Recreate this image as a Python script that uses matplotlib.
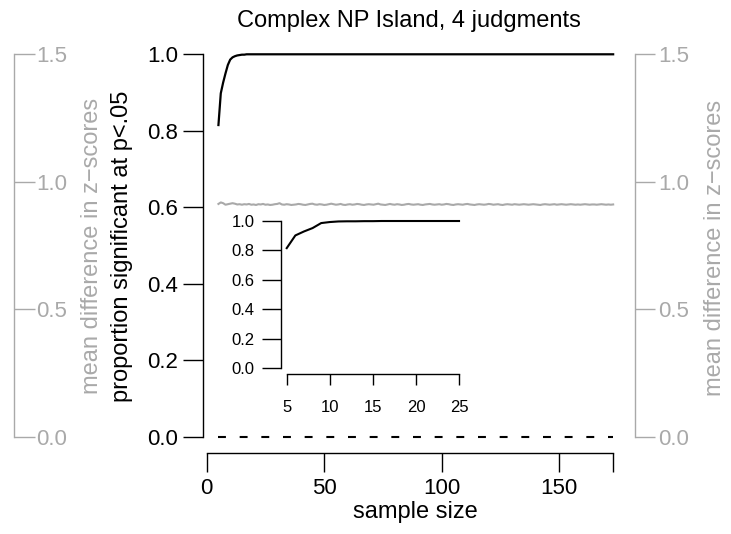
import numpy as np
import matplotlib
matplotlib.use("Agg")
import matplotlib.pyplot as plt

plt.rcParams['font.family'] = ['Liberation Sans', 'DejaVu Sans']

gray = '#a9a9a9'

# proportion significant, sample sizes 5..173
sizes = list(range(5, 174))
prop_sig = [0.815, 0.898, 0.926, 0.950, 0.972, 0.986, 0.992, 0.995, 0.997, 0.998,
            0.999, 0.999, 1.0] + [1.0] * (len(sizes) - 13)

# mean difference in z-scores (gray line), sample sizes 5..173
mean_diff = [
    0.913, 0.919, 0.916, 0.910, 0.912, 0.914, 0.916, 0.914, 0.911, 0.912,
    0.910, 0.912, 0.911, 0.913, 0.910, 0.911, 0.909, 0.912, 0.911, 0.913,
    0.910, 0.911, 0.909, 0.910, 0.912, 0.913, 0.916, 0.911, 0.910, 0.912,
    0.911, 0.909, 0.910, 0.911, 0.913, 0.912, 0.910, 0.909, 0.911, 0.913,
    0.914, 0.911, 0.910, 0.912, 0.911, 0.909, 0.910, 0.912, 0.914, 0.912,
    0.910, 0.911, 0.913, 0.910, 0.909, 0.911, 0.912, 0.910, 0.911, 0.913,
    0.912, 0.910, 0.909, 0.911, 0.912, 0.911, 0.910, 0.912, 0.914, 0.911,
    0.910, 0.909, 0.911, 0.913, 0.911, 0.910, 0.912, 0.911, 0.909, 0.910,
    0.912, 0.913, 0.911, 0.910, 0.911, 0.912, 0.910, 0.909, 0.911, 0.912,
    0.913, 0.911, 0.910, 0.911, 0.912, 0.910, 0.911, 0.913, 0.912, 0.910,
    0.909, 0.911, 0.912, 0.911, 0.910, 0.912, 0.913, 0.911, 0.910, 0.909,
    0.911, 0.912, 0.911, 0.910, 0.911, 0.913, 0.912, 0.910, 0.911, 0.912,
    0.910, 0.909, 0.911, 0.912, 0.911, 0.910, 0.912, 0.911, 0.910, 0.911,
    0.912, 0.911, 0.910, 0.911, 0.912, 0.911, 0.910, 0.909, 0.911, 0.912,
    0.911, 0.910, 0.911, 0.912, 0.910, 0.911, 0.912, 0.911, 0.910, 0.911,
    0.912, 0.911, 0.910, 0.911, 0.910, 0.911, 0.912, 0.911, 0.910, 0.911,
    0.911, 0.910, 0.911, 0.912, 0.911, 0.910, 0.911, 0.910, 0.911,
]

# zoomed inset, sample sizes 5..25
inset_sizes = list(range(5, 26))
inset_prop = [0.816, 0.902, 0.929, 0.952, 0.986, 0.993, 0.997, 0.998, 0.998, 0.999,
              0.999, 1.0, 1.0, 1.0, 1.0, 1.0, 1.0, 1.0, 1.0, 1.0, 1.0]

x_ticks = [0, 50, 100, 150, 173]
x_labels = ['0', '50', '100', '150', '']
y_ticks = [0.0, 0.2, 0.4, 0.6, 0.8, 1.0]
z_ticks = [0.0, 0.5, 1.0, 1.5]

W, H = 731, 534
fig = plt.figure(figsize=(W / 100, H / 100), dpi=100)


def frac(left, right, bottom, top):
    # pixel box -> figure fraction rect
    return [left / W, 1 - bottom / H, (right - left) / W, (bottom - top) / H]


ax = fig.add_axes(frac(203, 635, 453, 39))
ax.set_xlim(-1.57, 182.3)
ax.set_ylim(-0.0426, 1.04)
for s in ['top', 'right']:
    ax.spines[s].set_visible(False)
ax.spines['left'].set_bounds(0, 1)
ax.spines['bottom'].set_bounds(0, 173)
for s in ['left', 'bottom']:
    ax.spines[s].set_linewidth(1.0)
ax.set_xticks(x_ticks)
ax.set_xticklabels(x_labels)
ax.set_yticks(y_ticks)
ax.set_yticklabels(['%.1f' % v for v in y_ticks])
ax.tick_params(axis='y', length=14.4, width=1.0, pad=3.6, labelsize=16)
ax.tick_params(axis='x', length=13.7, width=1.0, pad=4.5, labelsize=16)
ax.patch.set_visible(False)

ax.plot(sizes, prop_sig, color='black', lw=1.6, clip_on=False)
ax.plot(sizes, [0] * len(sizes), color='black', lw=1.5, dashes=(3.8, 6.6), clip_on=False)

# gray axis on right
ax2 = ax.twinx()
ax2.set_ylim(-0.0426 * 1.5, 1.04 * 1.5)
for s in ['top', 'left', 'bottom']:
    ax2.spines[s].set_visible(False)
ax2.spines['right'].set_bounds(0, 1.5)
ax2.spines['right'].set_color(gray)
ax2.spines['right'].set_linewidth(1.0)
ax2.set_yticks(z_ticks)
ax2.set_yticklabels(['%.1f' % v for v in z_ticks])
ax2.tick_params(axis='y', length=14.4, width=1.0, pad=2.0, labelsize=16, colors=gray)
ax2.plot(sizes, mean_diff, color=gray, lw=1.5)

# gray axis on left, ticks pointing inward
ax3 = fig.add_axes(frac(4, 14, 453, 39))
ax3.set_ylim(-0.0426 * 1.5, 1.04 * 1.5)
ax3.patch.set_visible(False)
for s in ['top', 'left', 'bottom']:
    ax3.spines[s].set_visible(False)
ax3.spines['right'].set_bounds(0, 1.5)
ax3.spines['right'].set_color(gray)
ax3.spines['right'].set_linewidth(1.0)
ax3.set_xticks([])
ax3.yaxis.tick_right()
ax3.set_yticks(z_ticks)
ax3.set_yticklabels(['%.1f' % v for v in z_ticks])
ax3.tick_params(axis='y', length=14.8, width=1.0, pad=1.2, labelsize=16, colors=gray)

# inset
axi = fig.add_axes(frac(280.7, 466, 374, 216))
axi.set_xlim(4.30, 25.81)
axi.set_ylim(-0.0387, 1.034)
axi.patch.set_visible(False)
for s in ['top', 'right']:
    axi.spines[s].set_visible(False)
axi.spines['left'].set_bounds(0, 1)
axi.spines['bottom'].set_bounds(5, 25)
for s in ['left', 'bottom']:
    axi.spines[s].set_linewidth(1.0)
axi.set_xticks([5, 10, 15, 20, 25])
axi.set_yticks(y_ticks)
axi.set_yticklabels(['%.1f' % v for v in y_ticks])
axi.tick_params(axis='y', length=13.7, width=1.0, pad=5.0, labelsize=12)
axi.tick_params(axis='x', length=7.6, width=1.0, pad=11, labelsize=12)
axi.plot(inset_sizes, inset_prop, color='black', lw=1.5)

fig.text(409 / W, 1 - 21 / H, 'Complex NP Island, 4 judgments', ha='center', va='center', fontsize=17)
fig.text(415 / W, 1 - 512 / H, 'sample size', ha='center', va='center', fontsize=17)
fig.text(122 / W, 1 - 246 / H, 'proportion significant at p<.05', ha='center', va='center',
         rotation=90, fontsize=17)
fig.text(92 / W, 1 - 246 / H, 'mean difference in z\u2212scores', ha='center', va='center',
         rotation=90, fontsize=17, color=gray)
fig.text(715 / W, 1 - 248 / H, 'mean difference in z\u2212scores', ha='center', va='center',
         rotation=90, fontsize=17, color=gray)

fig.savefig('out.png', dpi=100)
